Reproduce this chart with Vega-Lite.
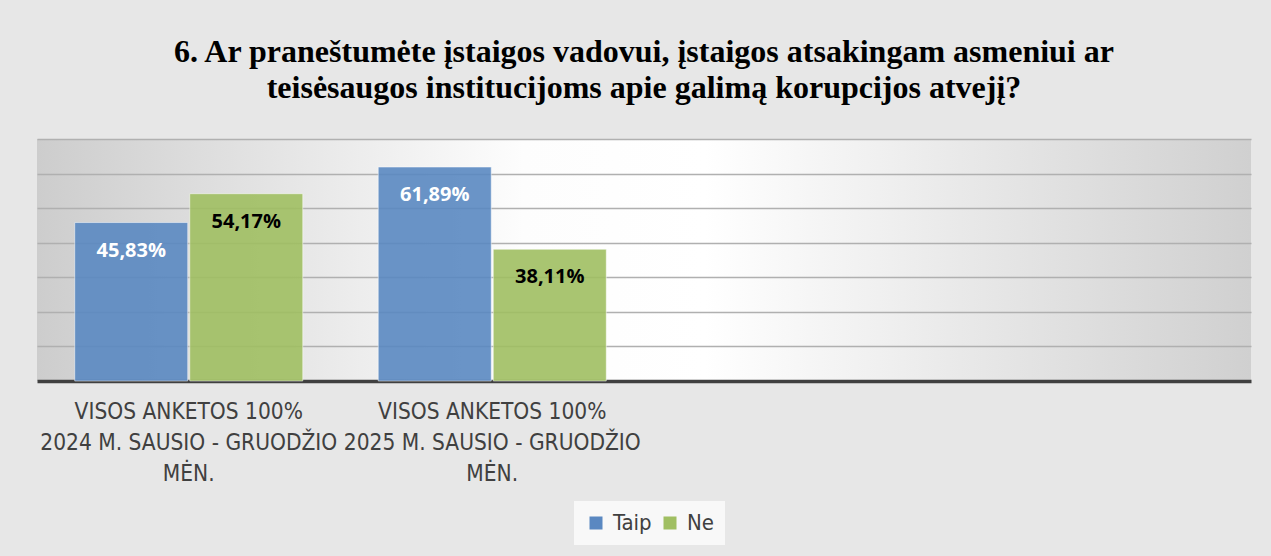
{
  "$schema": "https://vega.github.io/schema/vega-lite/v6.json",
  "autosize": "none",
  "width": 1214,
  "height": 242,
  "padding": {"left": 37, "top": 139, "right": 20, "bottom": 175},
  "background": "#e7e7e7",
  "title": {
    "text": ["6. Ar praneštumėte įstaigos vadovui, įstaigos atsakingam asmeniui ar", "teisėsaugos institucijoms apie galimą korupcijos atvejį?"],
    "font": "Liberation Serif",
    "fontSize": 32,
    "fontWeight": "bold",
    "color": "#000000",
    "anchor": "middle",
    "lineHeight": 36,
    "offset": 34
  },
  "data": {
    "values": [
      {"period": "VISOS ANKETOS 100%|2024 M. SAUSIO - GRUODŽIO|MĖN.", "answer": "Taip", "value": 45.83, "label": "45,83%"},
      {"period": "VISOS ANKETOS 100%|2024 M. SAUSIO - GRUODŽIO|MĖN.", "answer": "Ne", "value": 54.17, "label": "54,17%"},
      {"period": "VISOS ANKETOS 100%|2025 M. SAUSIO - GRUODŽIO|MĖN.", "answer": "Taip", "value": 61.89, "label": "61,89%"},
      {"period": "VISOS ANKETOS 100%|2025 M. SAUSIO - GRUODŽIO|MĖN.", "answer": "Ne", "value": 38.11, "label": "38,11%"}
    ]
  },
  "encoding": {
    "x": {
      "field": "period",
      "type": "nominal",
      "sort": null,
      "scale": {
        "domain": ["VISOS ANKETOS 100%|2024 M. SAUSIO - GRUODŽIO|MĖN.", "VISOS ANKETOS 100%|2025 M. SAUSIO - GRUODŽIO|MĖN.", "_empty3", "_empty4"],
        "paddingInner": 0,
        "paddingOuter": 0
      },
      "axis": {
        "title": null,
        "labelExpr": "indexof(datum.label, '|') >= 0 ? split(datum.label, '|') : ''",
        "labelAngle": 0,
        "labelLimit": 0,
        "labelOverlap": false,
        "labelBound": false,
        "labelFont": "Liberation Sans Narrow, DejaVu Sans Condensed, sans-serif",
        "labelFontSize": 22.5,
        "labelColor": "#404040",
        "labelLineHeight": 31,
        "labelPadding": 19,
        "labelBaseline": "top",
        "ticks": false,
        "domain": true,
        "domainColor": "#404040",
        "domainWidth": 3.5,
        "grid": false
      }
    },
    "xOffset": {
      "field": "answer",
      "type": "nominal",
      "sort": ["Taip", "Ne"],
      "scale": {"domain": ["Taip", "Ne"], "paddingInner": 0.0174, "paddingOuter": 0.328}
    },
    "y": {
      "field": "value",
      "type": "quantitative",
      "scale": {"domain": [0, 70], "nice": false},
      "axis": {
        "title": null,
        "labels": false,
        "ticks": false,
        "domain": false,
        "grid": true,
        "values": [10, 20, 30, 40, 50, 60, 70],
        "gridWidth": 1.5,
        "gridColor": "#b0b0b0",
        "encode": {
          "grid": {
            "update": {
              "stroke": {"signal": "datum.value >= 70 ? '#d6d6d6' : datum.value >= 60 ? '#cccccc' : datum.value >= 50 ? '#c2c2c2' : datum.value >= 40 ? '#b6b6b6' : datum.value >= 30 ? '#aaaaaa' : datum.value >= 20 ? '#9e9e9e' : '#929292'"}
            }
          }
        }
      }
    }
  },
  "layer": [
    {
      "mark": {"type": "bar", "fillOpacity": 0.9, "stroke": "#ffffff", "strokeOpacity": 0.5, "strokeWidth": 1},
      "encoding": {
        "color": {
          "field": "answer",
          "type": "nominal",
          "scale": {"domain": ["Taip", "Ne"], "range": ["#5a88c1", "#a0bf62"]},
          "legend": {
            "title": null,
            "orient": "none",
            "legendX": 537,
            "legendY": 362,
            "direction": "horizontal",
            "symbolType": "square",
            "symbolSize": 169,
            "symbolOpacity": 1,
            "symbolStrokeWidth": 0,
            "labelFont": "Liberation Sans Narrow, DejaVu Sans Condensed, sans-serif",
            "labelFontSize": 22,
            "labelColor": "#404040",
            "fillColor": "#f8f8f8",
            "padding": 11,
            "columnPadding": 7,
            "labelOffset": 6
          }
        }
      }
    },
    {
      "mark": {"type": "text", "baseline": "middle", "align": "center", "dy": 28, "font": "Open Sans", "fontSize": 20, "fontWeight": "bold"},
      "encoding": {
        "text": {"field": "label"},
        "color": {"condition": {"test": "datum.answer === 'Taip'", "value": "#ffffff"}, "value": "#000000"}
      }
    }
  ],
  "config": {
    "view": {
      "stroke": null,
      "fill": {
        "gradient": "linear",
        "x1": 0, "y1": 0.5, "x2": 1, "y2": 0.5,
        "stops": [
          {"offset": 0, "color": "#cdcdcd"},
          {"offset": 0.4, "color": "#fdfdfd"},
          {"offset": 0.55, "color": "#ffffff"},
          {"offset": 1, "color": "#d0d0d0"}
        ]
      }
    }
  }
}
